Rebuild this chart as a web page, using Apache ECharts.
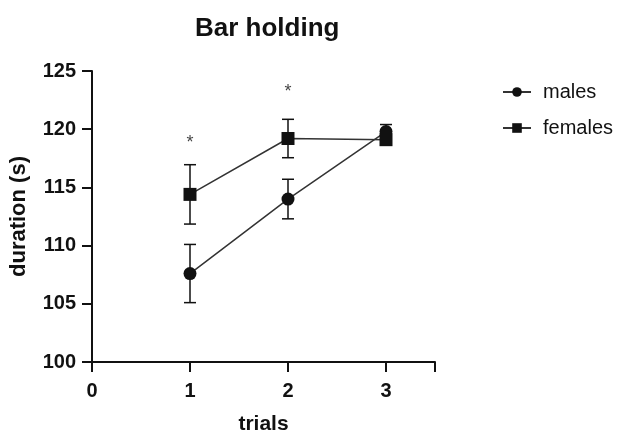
<!DOCTYPE html>
<html>
<head>
<meta charset="utf-8">
<script src="https://cdn.jsdelivr.net/npm/echarts@6/dist/echarts.min.js"></script>
<style>html,body{margin:0;padding:0;background:#fff}#c{width:624px;height:434px}</style>
</head>
<body>
<div id="c"></div>
<script>
const trials = [1, 2, 3];
const malesMean = [107.6, 114.0, 119.8];
const malesErr = [2.5, 1.7, 0.6];
const femalesMean = [114.4, 119.2, 119.1];
const femalesErr = [2.55, 1.65, 0.4];
const sigTrials = [1, 2];
const sigY = [118.8, 123.2];
const yTicks = [100, 105, 110, 115, 120, 125];
const xTicks = [0, 1, 2, 3];

const FONT = 'Liberation Sans, Arial, sans-serif';
const INK = '#111';

function errData(means, errs) {
  return trials.map((t, i) => [t, means[i] - errs[i], means[i] + errs[i]]);
}
function errSeries(name, means, errs) {
  return {
    type: 'custom',
    name: name + '_err',
    z: 1,
    silent: true,
    renderItem: function (params, api) {
      const x = api.value(0);
      const lo = api.coord([x, api.value(1)]);
      const hi = api.coord([x, api.value(2)]);
      const w = 6;
      const st = {stroke: INK, lineWidth: 1.5};
      return {
        type: 'group',
        children: [
          {type: 'line', shape: {x1: lo[0], y1: lo[1], x2: hi[0], y2: hi[1]}, style: st},
          {type: 'line', shape: {x1: lo[0] - w, y1: lo[1], x2: lo[0] + w, y2: lo[1]}, style: st},
          {type: 'line', shape: {x1: hi[0] - w, y1: hi[1], x2: hi[0] + w, y2: hi[1]}, style: st}
        ]
      };
    },
    encode: {x: 0, y: [1, 2]},
    data: errData(means, errs)
  };
}

const chart = echarts.init(document.getElementById('c'), null, {renderer: 'canvas'});
chart.setOption({
  animation: false,
  backgroundColor: '#fff',
  title: {
    text: 'Bar holding',
    left: 190, top: 11,
    textStyle: {fontFamily: FONT, fontWeight: 'bold', fontSize: 26, color: INK}
  },
  legend: {
    orient: 'vertical',
    left: 497, top: 77,
    itemWidth: 28, itemHeight: 12, itemGap: 16,
    data: ['males', 'females'],
    textStyle: {fontFamily: FONT, fontSize: 20, color: INK, padding: [0, 0, 0, 7]}
  },
  grid: {left: 92, right: 189, top: 71, bottom: 72, containLabel: false, outerBoundsMode: 'none'},
  xAxis: {
    type: 'value', min: 0, max: 3.5, interval: 1,
    name: 'trials', nameLocation: 'middle', nameGap: 52,
    nameTextStyle: {fontFamily: FONT, fontWeight: 'bold', fontSize: 21, color: INK},
    axisLine: {lineStyle: {color: INK, width: 2}},
    axisTick: {length: 10, lineStyle: {color: INK, width: 2}},
    splitLine: {show: false},
    axisLabel: {
      fontFamily: FONT, fontWeight: 'bold', fontSize: 20, color: INK, margin: 19,
      formatter: v => (xTicks.indexOf(v) >= 0 ? String(v) : '')
    }
  },
  yAxis: {
    type: 'value', min: 100, max: 125, interval: 5,
    name: 'duration (s)', nameLocation: 'middle', nameGap: 62,
    nameTextStyle: {fontFamily: FONT, fontWeight: 'bold', fontSize: 22, color: INK},
    axisLine: {show: true, lineStyle: {color: INK, width: 2}},
    axisTick: {show: true, length: 10, lineStyle: {color: INK, width: 2}},
    splitLine: {show: false},
    axisLabel: {
      fontFamily: FONT, fontWeight: 'bold', fontSize: 20, color: INK, margin: 16,
      formatter: v => (yTicks.indexOf(v) >= 0 ? String(v) : '')
    }
  },
  series: [
    errSeries('males', malesMean, malesErr),
    errSeries('females', femalesMean, femalesErr),
    {
      name: 'males', type: 'line', z: 3,
      symbol: 'circle', symbolSize: 13,
      lineStyle: {color: '#333', width: 1.5},
      itemStyle: {color: INK},
      data: trials.map((t, i) => [t, malesMean[i]])
    },
    {
      name: 'females', type: 'line', z: 3,
      symbol: 'rect', symbolSize: 13,
      lineStyle: {color: '#333', width: 1.5},
      itemStyle: {color: INK},
      data: trials.map((t, i) => [t, femalesMean[i]])
    },
    {
      name: 'sig', type: 'scatter', symbol: 'circle', symbolSize: 1, silent: true,
      itemStyle: {color: 'rgba(0,0,0,0)'},
      label: {show: true, position: 'inside', formatter: '*', fontFamily: FONT, fontSize: 18, color: INK},
      data: sigTrials.map((t, i) => [t, sigY[i]])
    }
  ]
});
</script>
</body>
</html>
